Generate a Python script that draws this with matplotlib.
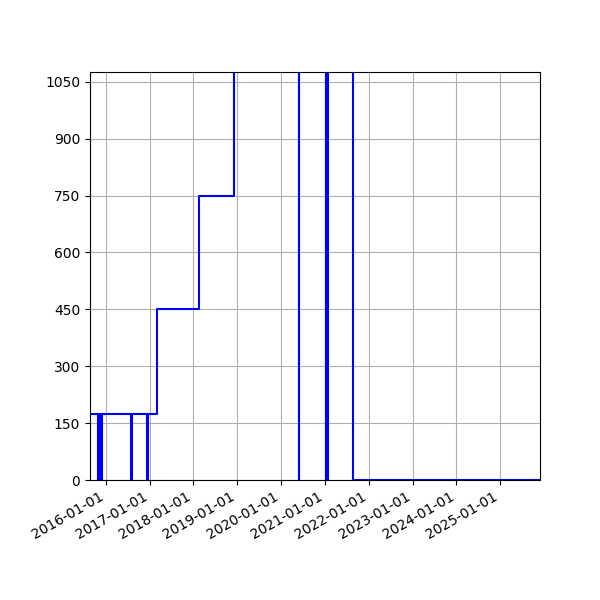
import matplotlib
matplotlib.use("Agg")
import matplotlib.pyplot as plt
import matplotlib.dates as mdates
import pandas as pd

dates = ["2015-08-23", "2015-10-25", "2015-11-05", "2015-11-10", "2015-11-22",
         "2015-11-24", "2015-12-04", "2016-08-01", "2016-08-03", "2016-12-09",
         "2016-12-15", "2017-03-01", "2018-02-15", "2018-12-07", "2020-05-28",
         "2020-05-30", "2021-01-09", "2021-01-24", "2021-08-25", "2025-11-28"]
values = [175, 0, 175, 0, 175,
          0, 175, 0, 175, 0,
          175, 450, 750, 3000, 0,
          3000, 0, 3000, 0, 0]
y_ticks = [0, 150, 300, 450, 600, 750, 900, 1050]

x = pd.to_datetime(dates)

fig = plt.figure(figsize=(6, 6), dpi=100)
ax = fig.add_axes([0.15, 0.2, 0.75, 0.68])
ax.plot(x, values, color="blue", linewidth=1.5, drawstyle="steps-post")
ax.set_xlim(x[0], x[-1])
ax.set_ylim(0, 1076)
ax.set_yticks(y_ticks)
ax.xaxis.set_major_locator(mdates.YearLocator())
ax.xaxis.set_major_formatter(mdates.DateFormatter("%Y-%m-%d"))
ax.grid(True)
for lbl in ax.get_xticklabels():
    lbl.set_rotation(30)
    lbl.set_ha("right")
fig.savefig("out.png", dpi=100)
